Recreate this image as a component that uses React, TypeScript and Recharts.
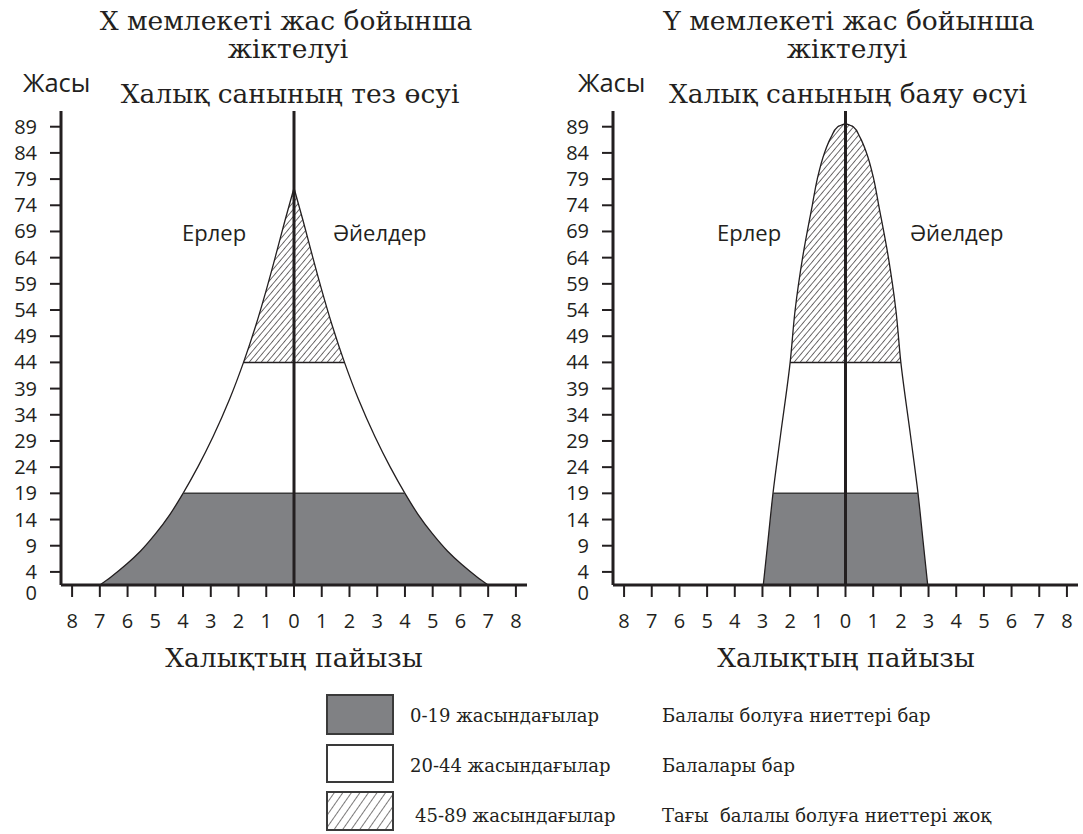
import React from 'react'
import { ComposedChart, Area, XAxis, YAxis, ReferenceLine } from 'recharts'

// Country X, fast growth: age (vertical) and % of population on each side
const xAges = [1.5, 3, 5.6, 8, 11.3, 15, 19, 24, 29.8, 37, 44, 51, 58, 65, 71, 77.3]
const xShare = [7.0, 6.61, 6.01, 5.53, 4.99, 4.47, 4.0, 3.47, 2.92, 2.32, 1.82, 1.38, 0.99, 0.63, 0.33, 0]

// Country Y, slow growth
const yAges = [1.5, 10, 19, 30, 44, 54, 64, 74, 79, 84, 87, 89, 89.6]
const yShare = [2.97, 2.8, 2.62, 2.35, 2.0, 1.82, 1.55, 1.2, 1.02, 0.76, 0.52, 0.28, 0]

// first tick sits on the baseline and is printed as "0"
const ageTicks = [1.5, 4, 9, 14, 19, 24, 29, 34, 39, 44, 49, 54, 59, 64, 69, 74, 79, 84, 89]
const shareTicks = [-8, -7, -6, -5, -4, -3, -2, -1, 0, 1, 2, 3, 4, 5, 6, 7, 8]

const KIDS_TOP = 19
const ADULTS_TOP = 44

const legendRows = [
  { ages: '0-19 жасындағылар', note: 'Балалы болуға ниеттері бар' },
  { ages: '20-44 жасындағылар', note: 'Балалары бар' },
  { ages: '45-89 жасындағылар', note: 'Тағы  балалы болуға ниеттері жоқ' },
]

const INK = '#231f20'
const GREY = '#808184'
const SANS = '"Open Sans", sans-serif'
const SERIF = '"DejaVu Serif", serif'

const AgeTick = ({ x, y, payload }: any) => {
  const zero = payload.value === ageTicks[0]
  return (
    <g>
      {!zero && <line x1={x + 13} x2={x + 24} y1={y} y2={y} stroke={INK} strokeWidth={2} />}
      <text x={x} y={y + (zero ? 8 : 0)} dy={7} textAnchor="end" fontFamily={SANS} fontSize={20} fill={INK}>
        {zero ? 0 : payload.value}
      </text>
    </g>
  )
}

const ShareTick = ({ x, y, payload }: any) => (
  <text x={x} y={y} dy={31} textAnchor="middle" fontFamily={SANS} fontSize={20} fill={INK}>
    {Math.abs(payload.value)}
  </text>
)

function Pyramid({ ages, share, id, left, width, marginLeft, marginRight }: any) {
  const rows = ages.map((age: number, i: number) => ({
    age,
    outL: -share[i],
    outR: share[i],
    adultL: age <= ADULTS_TOP ? -share[i] : null,
    adultR: age <= ADULTS_TOP ? share[i] : null,
    kidL: age <= KIDS_TOP ? -share[i] : null,
    kidR: age <= KIDS_TOP ? share[i] : null,
  }))
  const at = (a: number) => share[ages.indexOf(a)]

  return (
    <div style={{ position: 'absolute', left, top: 0 }}>
      <ComposedChart
        layout="vertical"
        width={width}
        height={640}
        data={rows}
        margin={{ top: 111, right: marginRight, bottom: 15, left: marginLeft }}
      >
        <defs>
          <pattern id={id} patternUnits="userSpaceOnUse" width={4.6} height={4.6} patternTransform="rotate(40)">
            <rect width={4.6} height={4.6} fill="#fff" />
            <line x1={0} y1={0} x2={0} y2={4.6} stroke={INK} strokeWidth={1.3} />
          </pattern>
        </defs>
        <XAxis
          type="number"
          domain={[-8.4, 8.4]}
          ticks={shareTicks}
          allowDataOverflow
          height={40}
          tickSize={12}
          tickMargin={0}
          axisLine={{ stroke: INK, strokeWidth: 3 }}
          tickLine={{ stroke: INK, strokeWidth: 2 }}
          tick={<ShareTick />}
          interval={0}
        />
        <YAxis
          type="number"
          dataKey="age"
          domain={[1.5, 92]}
          ticks={ageTicks}
          allowDataOverflow
          reversed
          width={40}
          tickSize={11}
          tickMargin={13}
          axisLine={{ stroke: INK, strokeWidth: 3 }}
          tickLine={false}
          tick={<AgeTick />}
          interval={0}
        />
        <Area dataKey="outL" type="monotone" baseValue={0} fill={`url(#${id})`} fillOpacity={1} stroke="none" isAnimationActive={false} />
        <Area dataKey="outR" type="monotone" baseValue={0} fill={`url(#${id})`} fillOpacity={1} stroke="none" isAnimationActive={false} />
        <Area dataKey="adultL" type="monotone" baseValue={0} fill="#fff" fillOpacity={1} stroke="none" isAnimationActive={false} />
        <Area dataKey="adultR" type="monotone" baseValue={0} fill="#fff" fillOpacity={1} stroke="none" isAnimationActive={false} />
        <Area dataKey="kidL" type="monotone" baseValue={0} fill={GREY} fillOpacity={1} stroke="none" isAnimationActive={false} />
        <Area dataKey="kidR" type="monotone" baseValue={0} fill={GREY} fillOpacity={1} stroke="none" isAnimationActive={false} />
        <Area dataKey="outL" type="monotone" baseValue={0} fill="none" stroke={INK} strokeWidth={1.3} isAnimationActive={false} />
        <Area dataKey="outR" type="monotone" baseValue={0} fill="none" stroke={INK} strokeWidth={1.3} isAnimationActive={false} />
        <ReferenceLine
          segment={[{ x: -at(KIDS_TOP), y: KIDS_TOP }, { x: at(KIDS_TOP), y: KIDS_TOP }]}
          stroke="#3a3a3a"
          strokeWidth={1.5}
        />
        <ReferenceLine
          segment={[{ x: -at(ADULTS_TOP), y: ADULTS_TOP }, { x: at(ADULTS_TOP), y: ADULTS_TOP }]}
          stroke={INK}
          strokeWidth={1.5}
        />
        <ReferenceLine x={0} stroke={INK} strokeWidth={3} />
      </ComposedChart>
    </div>
  )
}

export default function App() {
  return (
    <div style={{ position: 'absolute', left: 0, top: 0, width: 1083, height: 834, background: '#fff' }}>
      <Pyramid ages={xAges} share={xShare} id="hatchX" left={0} width={545} marginLeft={21} marginRight={18} />
      <Pyramid ages={yAges} share={yShare} id="hatchY" left={545} width={538} marginLeft={28} marginRight={5} />

      <svg width={1083} height={834} style={{ position: 'absolute', left: 0, top: 0, pointerEvents: 'none' }}>
        <defs>
          <pattern id="hatchLegend" patternUnits="userSpaceOnUse" width={7} height={7} patternTransform="rotate(35)">
            <line x1={0} y1={0} x2={0} y2={7} stroke={INK} strokeWidth={1.2} />
          </pattern>
        </defs>

        <g fontFamily={SERIF} fontSize={26.5} fill={INK} textAnchor="middle">
          <text x={286} y={30}>X мемлекеті жас бойынша</text>
          <text x={288} y={58}>жіктелуі</text>
          <text x={290} y={103}>Халық санының тез өсуі</text>
          <text x={849} y={30}>Y мемлекеті жас бойынша</text>
          <text x={847} y={58}>жіктелуі</text>
          <text x={848} y={103}>Халық санының баяу өсуі</text>
          <text x={294} y={667}>Халықтың пайызы</text>
          <text x={846} y={667}>Халықтың пайызы</text>
        </g>

        <g fontFamily={SANS} fill={INK}>
          <text x={23} y={92} fontSize={25.5}>Жасы</text>
          <text x={578} y={92} fontSize={25.5}>Жасы</text>
          <text x={182} y={241} fontSize={22}>Ерлер</text>
          <text x={333} y={241} fontSize={22}>Әйелдер</text>
          <text x={717} y={241} fontSize={22}>Ерлер</text>
          <text x={910} y={241} fontSize={22}>Әйелдер</text>
        </g>

        <rect x={327} y={695} width={66} height={39} fill={GREY} stroke="#3a3a3a" strokeWidth={2} />
        <rect x={327} y={745} width={66} height={37} fill="#fff" stroke="#3a3a3a" strokeWidth={2} />
        <rect x={327} y={792} width={66} height={38} fill="url(#hatchLegend)" stroke="#3a3a3a" strokeWidth={2} />

        <g fontFamily={SERIF} fontSize={18} fill={INK}>
          {legendRows.map((r, i) => (
            <g key={r.ages}>
              <text x={i === 2 ? 415 : 410} y={722 + i * 50} style={{ whiteSpace: 'pre' }}>{r.ages}</text>
              <text x={662} y={722 + i * 50} style={{ whiteSpace: 'pre' }}>{r.note}</text>
            </g>
          ))}
        </g>
      </svg>
    </div>
  )
}
